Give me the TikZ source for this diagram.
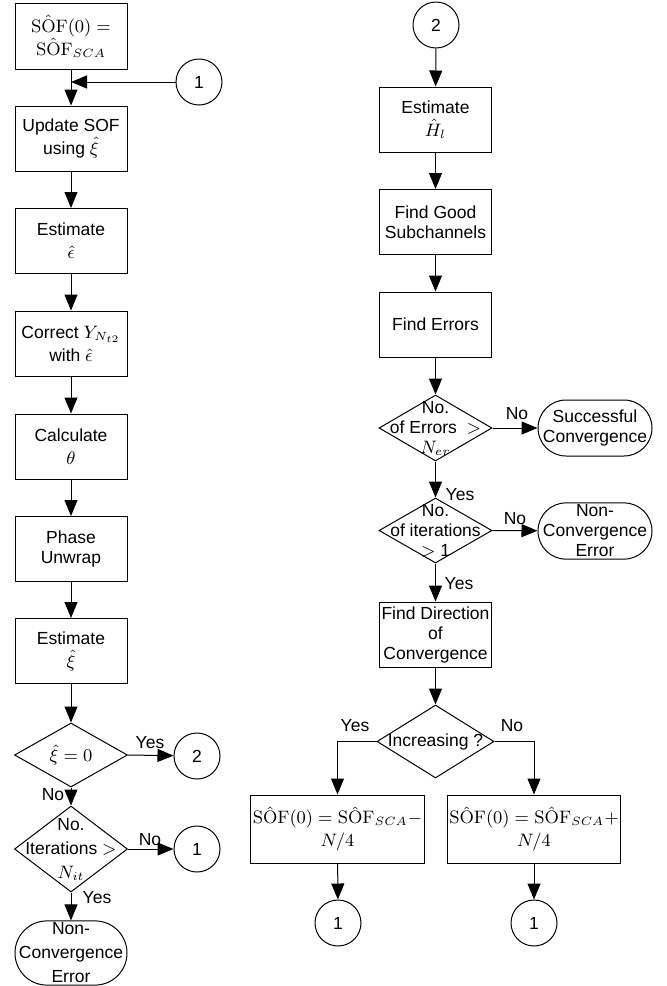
\documentclass[tikz,border=0pt]{standalone}
\usepackage[no-math]{fontspec}
\setmainfont{Liberation Sans}
\usetikzlibrary{arrows.meta,shapes.geometric}
\begin{document}
\begin{tikzpicture}[x=0.5pt,y=-0.5pt,
  every node/.style={font=\fontsize{8.75}{10}\selectfont, align=center, inner sep=1pt},
  box/.style={draw, line width=0.5pt, minimum width=56pt, minimum height=32.5pt},
  widebox/.style={draw, line width=0.5pt, minimum width=75pt, minimum height=34pt},
  dia/.style={draw, diamond, line width=0.5pt, inner sep=0pt},
  term/.style={draw, line width=0.5pt, rounded corners=14pt, minimum width=57pt, minimum height=28pt},
  conn/.style={draw, circle, line width=0.5pt, minimum size=23pt, inner sep=0pt},
  lab/.style={inner sep=0pt},
  arr/.style={-{Triangle[length=8pt,width=6.5pt]}, line width=0.5pt},
  wide/.style={font=\fontsize{8.75}{12}\selectfont},
  mathlines/.style={font=\fontsize{8.75}{11.5}\selectfont}]

\useasboundingbox (0,0) rectangle (667,986);

% ---------- left column ----------
\node[box, mathlines, minimum height=33pt] (b1) at (71,36) {$\mathrm{S\hat{O}F}(0) =$\\$\mathrm{S\hat{O}F}_{SCA}$};
\node[conn] (c1a) at (199,82) {1};
\node[box, mathlines] (b2) at (71,138.5) {Update SOF\\using $\hat{\xi}$};
\node[box, mathlines] (b3) at (71,241) {Estimate\\$\hat{\epsilon}$};
\node[box, mathlines] (b4) at (71,343.5) {Correct $Y_{N_{t2}}$\\with $\hat{\epsilon}$};
\node[box, mathlines] (b5) at (71,446.5) {Calculate\\$\theta$};
\node[box] (b6) at (71,549) {Phase\\Unwrap};
\node[box, mathlines] (b7) at (71,651) {Estimate\\$\hat{\xi}$};
\node[dia, minimum width=56.5pt, minimum height=32pt] (d1) at (71,755) {};
\node[lab] (d1t) at (71,755) {$\hat{\xi} = 0$};
\node[conn] (c2a) at (197,756) {2};
\node[dia, minimum width=56.5pt, minimum height=43pt] (d2) at (71,849) {};
\node[lab, wide] (d2t) at (71,849) {No.\\Iterations $>$\\$N_{it}$};
\node[conn] (c1b) at (197,849) {1};
\node[term, wide, minimum width=56pt, minimum height=32pt, rounded corners=16pt] (t1) at (71,953) {Non-\\Convergence\\Error};

\draw[arr] (b1) -- (b2);
\draw[arr] (c1a.west) -- (c1a.west -| b1.south);
\draw[arr] (b2) -- (b3);
\draw[arr] (b3) -- (b4);
\draw[arr] (b4) -- (b5);
\draw[arr] (b5) -- (b6);
\draw[arr] (b6) -- (b7);
\draw[arr] (b7) -- (d1);
\draw[arr] (d1.east) -- (c2a);
\draw[arr] (d1.south) -- (d2.north);
\draw[arr] (d2.east) -- (c1b);
\draw[arr] (d2.south) -- (t1);

\node[lab] (l1) at (150,743) {Yes};
\node[lab] (l2) at (53,795) {No};
\node[lab] (l3) at (150,840) {No};
\node[lab] (l4) at (97,898) {Yes};

% ---------- right column ----------
\node[conn] (c2b) at (436,25) {2};
\node[box, mathlines] (bH) at (435.5,119.5) {Estimate\\$\hat{H}_l$};
\node[box] (bG) at (435.5,222) {Find Good\\Subchannels};
\node[box] (bE) at (435.5,324.5) {Find Errors};
\node[dia, minimum width=56.5pt, minimum height=33pt] (d3) at (435.5,428) {};
\node[lab] (d3t) at (435.5,428) {No.\\of Errors~~$>$\\$N_{er}$};
\node[term] (tS) at (595,428) {Successful\\Convergence};
\node[dia, minimum width=56.5pt, minimum height=32.5pt] (d4) at (435.5,530.5) {};
\node[lab] (d4t) at (435.5,530.5) {No.\\of iterations\\$>$ 1};
\node[term] (tN) at (595,531) {Non-\\Convergence\\Error};
\node[box] (bD) at (435.5,634.5) {Find Direction\\of\\Convergence};
\node[dia, minimum width=58.5pt, minimum height=36.5pt] (d5) at (435.5,741.5) {};
\node[lab] (d5t) at (435.5,741.5) {Increasing ?};
\node[widebox, mathlines] (bL) at (337.5,829) {$\mathrm{S\hat{O}F}(0) = \mathrm{S\hat{O}F}_{SCA}-$\\$N/4$};
\node[widebox, mathlines] (bR) at (534,829) {$\mathrm{S\hat{O}F}(0) = \mathrm{S\hat{O}F}_{SCA}+$\\$N/4$};
\node[conn] (cL) at (338,923) {1};
\node[conn] (cR) at (534,923) {1};

\draw[arr] (c2b) -- (bH);
\draw[arr] (bH) -- (bG);
\draw[arr] (bG) -- (bE);
\draw[arr] (bE) -- (d3);
\draw[arr] (d3.east) -- (tS);
\draw[arr] (d3.south) -- (d4.north);
\draw[arr] (d4.east) -- (tN);
\draw[arr] (d4.south) -- (bD);
\draw[arr] (bD) -- (d5);
\draw[arr] (d5.west) -| (bL.north);
\draw[arr] (d5.east) -| (bR.north);
\draw[arr] (bL) -- (cL);
\draw[arr] (bR) -- (cR);

\node[lab] (l5) at (517,414) {No};
\node[lab] (l6) at (460,495) {Yes};
\node[lab] (l7) at (515,519) {No};
\node[lab] (l8) at (459,584) {Yes};
\node[lab] (l9) at (355,726) {Yes};
\node[lab] (l10) at (512,726) {No};
\end{tikzpicture}
\end{document}
